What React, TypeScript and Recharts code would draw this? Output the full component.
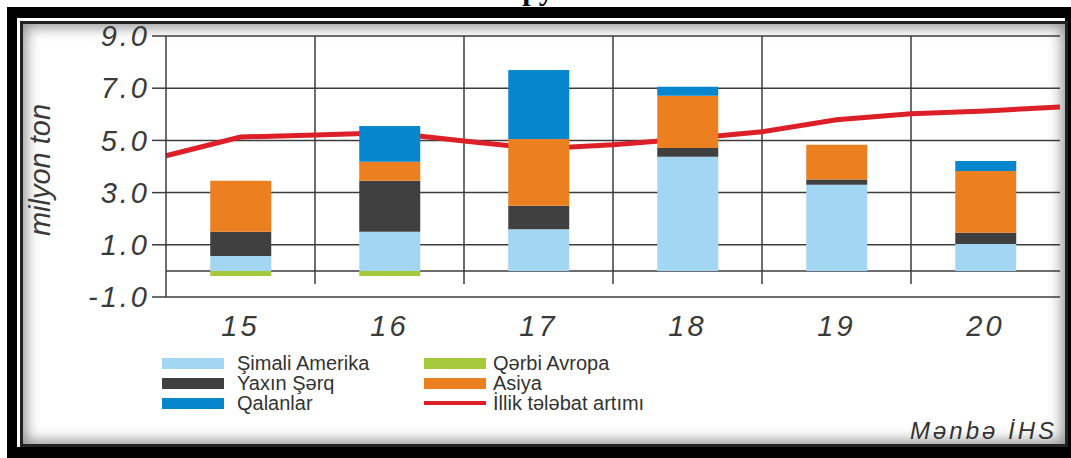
import React from 'react';
import { Bar, CartesianGrid, ComposedChart, Line, ReferenceLine, XAxis, YAxis } from 'recharts';

const categories = ['15', '16', '17', '18', '19', '20'];
const categoryPos = [0.5, 1.5, 2.5, 3.5, 4.5, 5.5];

const shimaliAmerika = [0.57, 1.5, 1.6, 4.37, 3.3, 1.03];
const yaxinSherq = [0.93, 1.95, 0.9, 0.34, 0.2, 0.43];
const asiya = [1.95, 0.73, 2.55, 2.0, 1.33, 2.37];
const qalanlar = [0, 1.37, 2.65, 0.35, 0, 0.38];
const qerbiAvropa = [-0.2, -0.2, 0, 0, 0, 0];

// red line runs edge to edge, so it has its own x positions
const linePos = [0, 0.5, 1, 1.5, 2, 2.5, 3, 3.5, 4, 4.5, 5, 5.5, 6];
const illikArtim = [4.41, 5.13, 5.21, 5.29, 4.98, 4.68, 4.83, 5.06, 5.33, 5.79, 6.02, 6.13, 6.28];

const yTicks = [-1, 1, 3, 5, 7, 9];
const gridLines = [1, 2, 3, 4, 5];

const C = {
  sa: '#a3d6f2',
  ys: '#404040',
  as: '#ec7f1f',
  qa: '#0686cc',
  qe: '#a5c93a',
  red: '#dd1f27',
  grid: '#3c3c3c',
  text: '#3a3a3a',
};

const legendItems = [
  { label: 'Şimali Amerika', color: C.sa, line: false },
  { label: 'Yaxın Şərq', color: C.ys, line: false },
  { label: 'Qalanlar', color: C.qa, line: false },
  { label: 'Qərbi Avropa', color: C.qe, line: false },
  { label: 'Asiya', color: C.as, line: false },
  { label: 'İllik tələbat artımı', color: C.red, line: true },
];

const rows = linePos.map((p, i) => {
  const row: Record<string, number> = { pos: p, artim: illikArtim[i] };
  const k = categoryPos.indexOf(p);
  if (k >= 0) {
    row.sa = shimaliAmerika[k];
    row.ys = yaxinSherq[k];
    row.as = asiya[k];
    row.qa = qalanlar[k];
    row.qe = qerbiAvropa[k];
  }
  return row;
});

const tickFont = { fontFamily: 'Liberation Sans, Arial, sans-serif', fontStyle: 'italic' as const };
const chartMargin = { top: 36, right: 11, left: 0, bottom: 121 };

const YLabel = () => (
  <text
    x={40}
    y={170}
    transform="rotate(-90, 40, 170)"
    textAnchor="middle"
    dominantBaseline="central"
    fontSize={29}
    fill={C.text}
    style={tickFont}
  >
    milyon ton
  </text>
);

export default function App() {
  return (
    <div style={{ position: 'fixed', left: 0, top: 0, width: 1071, height: 458, overflow: 'hidden', background: '#fff' }}>
      {/* frame */}
      <div style={{ position: 'absolute', left: 7, top: 7, width: 1070, height: 460, background: '#000' }} />
      <div style={{ position: 'absolute', left: 17, top: 18, width: 1048, height: 429, background: '#fff' }} />
      <div
        style={{
          position: 'absolute', left: 20, top: 21, width: 1042, height: 420, background: '#fff',
          border: '3px solid #222', boxShadow: 'inset 0 0 14px 3px rgba(0,0,0,0.45)',
        }}
      />
      <svg style={{ position: 'absolute', left: 0, top: 0 }} width={1071} height={12}>
        <text x={538} y={0} textAnchor="middle" fontSize={30} fontWeight="bold" fontFamily="Liberation Serif, serif" fill="#000">
          py
        </text>
      </svg>

      {/* grid, axes and the red line */}
      <div style={{ position: 'absolute', left: 0, top: 0 }}>
        <ComposedChart width={1071} height={458} data={rows} margin={chartMargin}>
          <CartesianGrid vertical={false} stroke={C.grid} strokeWidth={1.5} />
          <XAxis
            dataKey="pos"
            type="number"
            domain={[0, 6]}
            ticks={categoryPos}
            tickFormatter={(v: number) => categories[categoryPos.indexOf(v)]}
            axisLine={false}
            tickLine={false}
            height={40}
            tickMargin={12}
            tick={{ ...tickFont, fontSize: 29, fill: C.text, letterSpacing: 3 }}
          />
          <YAxis
            domain={[-1, 9]}
            ticks={yTicks}
            tickFormatter={(v: number) => v.toFixed(1)}
            width={166}
            tickSize={14}
            tickMargin={2}
            axisLine={{ stroke: C.grid, strokeWidth: 1.5 }}
            tickLine={{ stroke: C.grid, strokeWidth: 1.5 }}
            tick={{ ...tickFont, fontSize: 29, fill: C.text, letterSpacing: 3 }}
            label={<YLabel />}
          />
          <ReferenceLine y={0} stroke={C.grid} strokeWidth={1.5} />
          {gridLines.map((x) => (
            <ReferenceLine
              key={x}
              segment={[{ x, y: 9 }, { x, y: -0.5 }]}
              stroke={C.grid}
              strokeWidth={1.5}
            />
          ))}
          <Line
            dataKey="artim"
            type="linear"
            stroke={C.red}
            strokeWidth={5}
            dot={false}
            isAnimationActive={false}
          />
        </ComposedChart>
      </div>

      {/* the red line sits behind the bars, so the bars get their own chart on top */}
      <div style={{ position: 'absolute', left: 0, top: 0 }}>
        <ComposedChart width={1071} height={458} data={rows} stackOffset="sign" margin={chartMargin}>
          <XAxis
            dataKey="pos"
            type="number"
            domain={[0, 6]}
            ticks={categoryPos}
            axisLine={false}
            tickLine={false}
            tick={false}
            height={40}
          />
          <YAxis domain={[-1, 9]} ticks={yTicks} width={166} axisLine={false} tickLine={false} tick={false} />
          <Bar dataKey="qe" stackId="s" fill={C.qe} barSize={61} isAnimationActive={false} />
          <Bar dataKey="sa" stackId="s" fill={C.sa} barSize={61} isAnimationActive={false} />
          <Bar dataKey="ys" stackId="s" fill={C.ys} barSize={61} isAnimationActive={false} />
          <Bar dataKey="as" stackId="s" fill={C.as} barSize={61} isAnimationActive={false} />
          <Bar dataKey="qa" stackId="s" fill={C.qa} barSize={61} isAnimationActive={false} />
        </ComposedChart>
      </div>

      {/* legend */}
      {legendItems.map((it, i) => {
        const col = i < 3 ? 0 : 1;
        const row = i % 3;
        const left = col === 0 ? 162 : 424;
        const cy = 363 + row * 20;
        return (
          <div key={it.label} style={{ position: 'absolute', left, top: cy - 12, height: 24, display: 'flex', alignItems: 'center' }}>
            <div style={{ width: 62, height: it.line ? 4 : 11, background: it.color }} />
            <span
              style={{
                marginLeft: col === 0 ? 13 : 7,
                fontFamily: 'Liberation Sans, Arial, sans-serif',
                fontSize: 20,
                color: '#333',
                whiteSpace: 'nowrap',
              }}
            >
              {it.label}
            </span>
          </div>
        );
      })}

      <div
        style={{
          position: 'absolute', right: 14, top: 417,
          fontFamily: 'Liberation Sans, Arial, sans-serif', fontStyle: 'italic', fontSize: 24,
          letterSpacing: 3, color: '#333',
        }}
      >
        Mənbə İHS
      </div>
    </div>
  );
}
